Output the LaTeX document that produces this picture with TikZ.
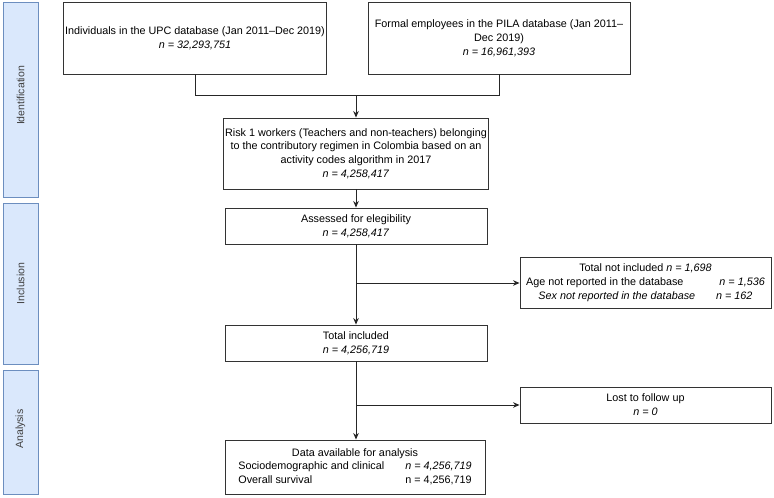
\documentclass[tikz,border=0pt]{standalone}
\usepackage{fontspec}
\setmainfont{Liberation Sans}
\usetikzlibrary{arrows.meta}
\usetikzlibrary{calc}
\definecolor{bandfill}{RGB}{218,232,252}
\definecolor{bandline}{RGB}{108,142,191}

\begin{document}
\begin{tikzpicture}[x=1pt,y=-1pt,font=\fontsize{10.8}{13.8}\selectfont,
   box/.style={draw=black!80,line width=.9pt,rectangle,align=center,inner sep=2pt},
   band/.style={draw=bandline,fill=bandfill,line width=.8pt,minimum width=35pt,
      text=black!75,font=\fontsize{10}{12}\selectfont},
   flow/.style={draw=black!85,line width=.9pt},
   arr/.style={flow,-{Stealth[length=6.5pt,width=5.5pt]}}]
\useasboundingbox (0,0) rectangle (774,498);

% stage bands on the left
\node[band,minimum height=195pt] (ident) at (20.5,99.5) {};
\node[band,minimum height=161pt] (incl) at (20.5,283.5) {};
\node[band,minimum height=124pt] (anal) at (20.5,432) {};
\node[rotate=90,text=black!75,font=\fontsize{10.5}{12}\selectfont] at ($(ident)+(0,-4)$) {Identification};
\node[rotate=90,text=black!75,font=\fontsize{10.5}{12}\selectfont] at (incl) {Inclusion};
\node[rotate=90,text=black!75,font=\fontsize{10.5}{12}\selectfont] at ($(anal)+(0,-3)$) {Analysis};

% main boxes
\node[box,minimum width=262pt,minimum height=72pt] (upc) at (195,38)
   {Individuals in the UPC database (Jan 2011--Dec 2019)\\ \textit{n = 32,293,751}};
\node[box,minimum width=262pt,minimum height=72pt] (pila) at (499,38)
   {Formal employees in the PILA database (Jan 2011--\\ Dec 2019)\\ \textit{n = 16,961,393}};
\node[box,minimum width=262pt,minimum height=71pt] (risk) at (356,153.5)
   {Risk 1 workers (Teachers and non-teachers) belonging\\
    to the contributory regimen in Colombia based on an\\
    activity codes algorithm in 2017\\ \textit{n = 4,258,417}};
\node[box,minimum width=262pt,minimum height=36pt] (assess) at (356,226)
   {Assessed for elegibility\\ \textit{n = 4,258,417}};
\node[box,minimum width=262pt,minimum height=36pt] (total) at (356,343)
   {Total included\\ \textit{n = 4,256,719}};
\node[box,minimum width=260pt,minimum height=54pt] (data) at (355,467)
   {\begin{tabular}{@{}l@{\hspace{21pt}}l@{}}
    \multicolumn{2}{c}{Data available for analysis}\\[-0.5pt]
    Sociodemographic and clinical & \textit{n = 4,256,719}\\[-0.5pt]
    Overall survival & n = 4,256,719
    \end{tabular}};

% side boxes
\node[box,minimum width=251pt,minimum height=51pt] (notinc) at (645.5,282.5)
   {Total not included \textit{n = 1,698}\\
    Age not reported in the database\hspace{36pt}\textit{n = 1,536}\\
    \textit{Sex not reported in the database\hspace{21pt}n = 162}};
\node[box,minimum width=251pt,minimum height=36pt] (lost) at (645.5,405)
   {Lost to follow up\\ \textit{n = 0}};

% connectors
\coordinate (j1) at ($(risk.north)+(0,-22)$);
\coordinate (b1) at (356,283);
\coordinate (b2) at (356,405);
\draw[flow] (upc.south) |- (j1) -| (pila.south);
\draw[arr] (j1) -- (risk.north);
\draw[arr] (risk.south) -- (assess.north);
\draw[arr] (assess.south) -- (total.north);
\draw[arr] (b1) -- (b1 -| notinc.west);
\draw[arr] (total.south) -- (total.south |- data.north);
\draw[arr] (b2) -- (b2 -| lost.west);
\end{tikzpicture}
\end{document}
